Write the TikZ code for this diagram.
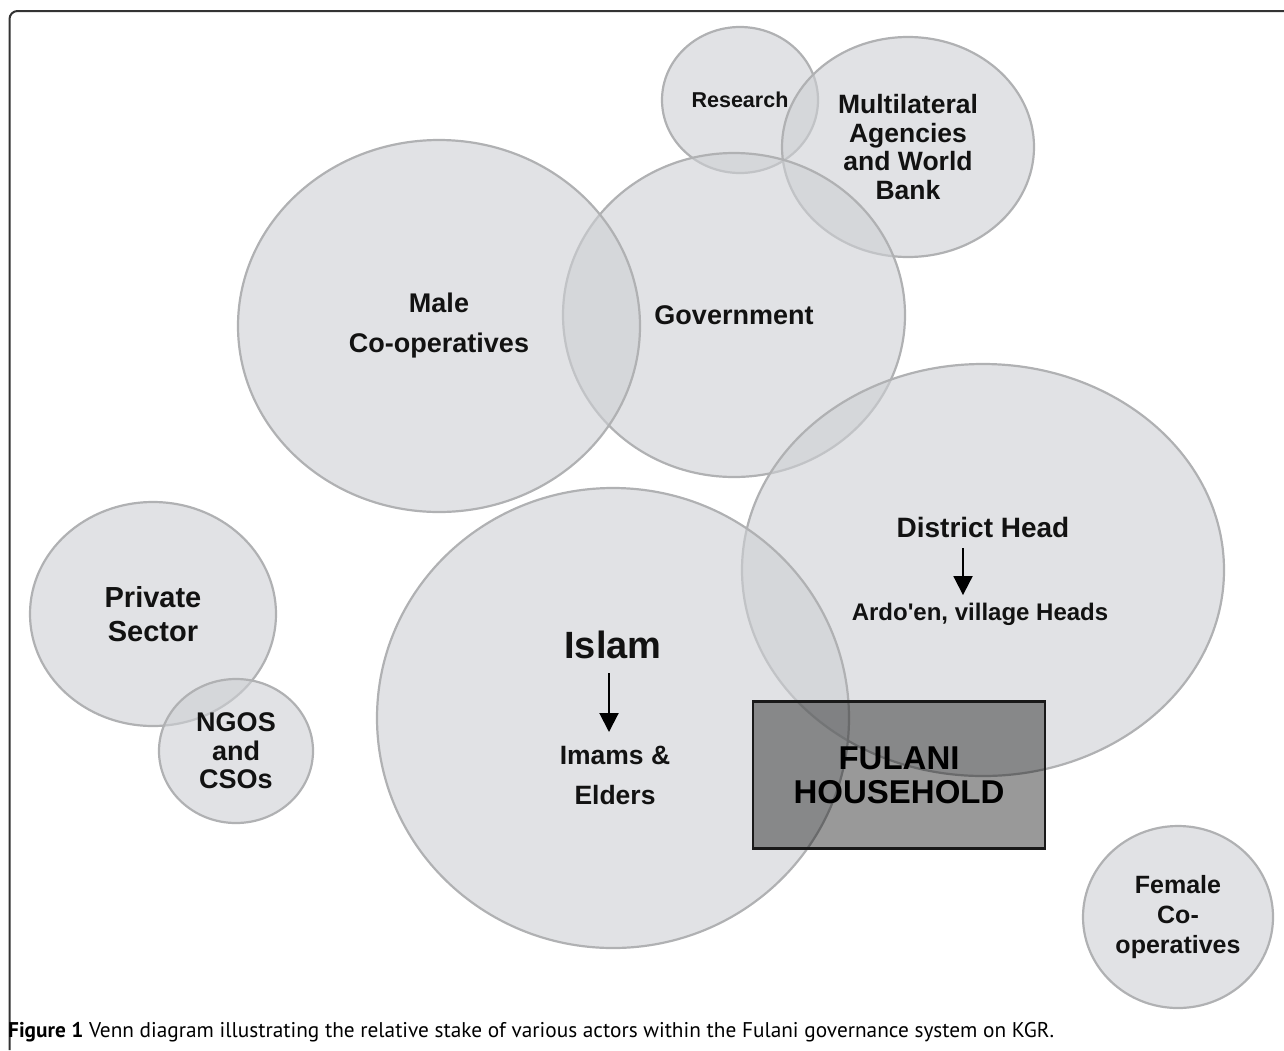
\documentclass[tikz,border=0pt]{standalone}
\usepackage{fontspec}
\setmainfont{Liberation Sans}
\newfontfamily\capfont{PT Sans}
\usetikzlibrary{shapes.geometric,arrows.meta}
\definecolor{actorfill}{RGB}{205,207,211}
\definecolor{actorline}{RGB}{176,177,179}
\newcommand{\fs}[2]{\fontsize{#1}{#2}\selectfont}
\begin{document}
\begin{tikzpicture}[x=1pt,y=-1pt,
    actor/.style={ellipse,draw=actorline,line width=2.2pt,fill=actorfill,fill opacity=0.6,
      text opacity=1,inner sep=0pt,align=center,text=black!93},
    tag/.style={inner sep=0pt,align=center,text=black!93},
    down/.style={line width=2pt,-{Triangle[width=19pt,length=19pt]}}]
    \useasboundingbox (0,0) rectangle (1284,1050);
    \draw[line width=2pt,black!80,rounded corners=8pt] (9.5,1050) -- (9.5,11) -- (1284,11);
    % actors
    \node[actor,minimum width=156,minimum height=146,font=\bfseries\fs{21.5}{26}] (research) at (740,100) {Research};
    \node[actor,minimum width=252,minimum height=220,font=\bfseries\fs{26.5}{28.7}] (multi) at (908,147) {Multilateral\\Agencies\\and World\\Bank};
    \node[actor,minimum width=342,minimum height=324,font=\bfseries\fs{27}{38}] (gov) at (734,315) {Government};
    \node[actor,minimum width=402,minimum height=372,font=\bfseries\fs{27}{40}] (male) at (439,326) {Male\\Co-operatives};
    \node[actor,minimum width=482,minimum height=412] (district) at (983,570) {};
    \node[actor,minimum width=472,minimum height=460] (islam) at (613,718) {};
    \node[actor,minimum width=246,minimum height=224,font=\bfseries\fs{29}{34}] (private) at (153,614) {Private\\Sector};
    \node[actor,minimum width=154,minimum height=144,font=\bfseries\fs{27}{28.5}] (ngos) at (236,751) {NGOS\\and\\CSOs};
    \node[actor,minimum width=190,minimum height=182,font=\bfseries\fs{25}{30}] (female) at (1178,917) {Female\\Co-\\operatives};
    % household
    \node[draw=black!90,line width=2.5pt,fill=black,fill opacity=0.4,text opacity=1,
      minimum width=292,minimum height=147,align=center,font=\bfseries\fs{33}{34}] (house) at (899,775)
      {FULANI\\HOUSEHOLD};
    % hierarchies
    \node[tag,font=\bfseries\fs{28}{32}] (dhead) at (983,527) {District Head};
    \node[tag,font=\bfseries\fs{24}{28}] (ardo) at (980,614) {Ardo\textquotesingle en, village Heads};
    \draw[down,shorten <=11pt,shorten >=7.5pt] ([xshift=-20pt]dhead.south) -- ([xshift=-17pt]ardo.north);
    \node[tag,font=\bfseries\fs{38}{40}] (faith) at (613,645) {Islam};
    \node[tag,font=\bfseries\fs{26.5}{40}] (imams) at (615,775) {Imams \&\\Elders};
    \draw[down,shorten <=14pt,shorten >=13.5pt] ([xshift=-4pt]faith.south) -- ([xshift=-6pt]imams.north);
    \node[anchor=base west,inner sep=0pt,font=\capfont\fs{21.3}{24}] (caption) at (8,1037)
      {\textbf{Figure 1} Venn diagram illustrating the relative stake of various actors within the Fulani governance system on KGR.};
\end{tikzpicture}
\end{document}
